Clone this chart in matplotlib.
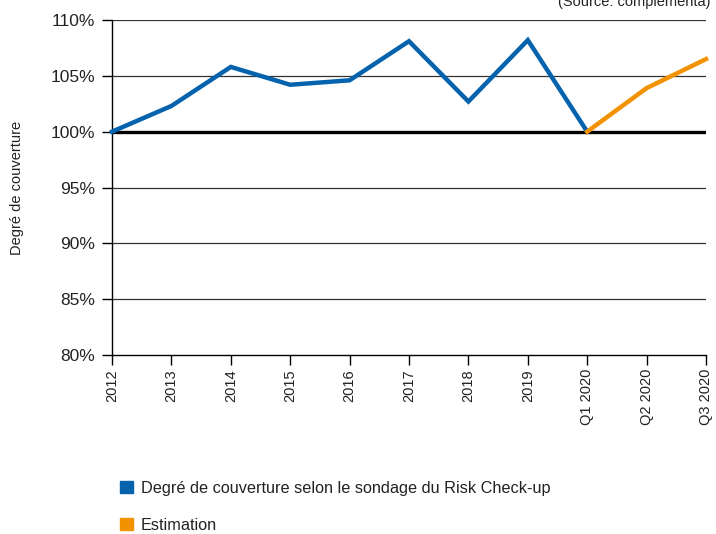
import numpy as np
import matplotlib.pyplot as plt
from matplotlib.patches import Patch

plt.rcParams['font.family'] = ['Liberation Sans', 'DejaVu Sans']

categories = ["2012", "2013", "2014", "2015", "2016", "2017", "2018", "2019",
              "Q1 2020", "Q2 2020", "Q3 2020"]
survey = [100.0, 102.3, 105.8, 104.2, 104.6, 108.1, 102.7, 108.2, 100.0]
estimate = [100.0, 103.9, 106.5]
yticks = [80, 85, 90, 95, 100, 105, 110]

blue = "#0563AE"
orange = "#F39200"

fig = plt.figure(figsize=(7.16, 5.34), dpi=100)
ax = fig.add_axes([112 / 716, 1 - 355 / 534, (706 - 112) / 716, (355 - 20) / 534])

x = np.arange(len(categories))
for y in yticks[1:]:
    if y == 100:
        ax.axhline(y, color="black", lw=2.4, zorder=2)
    else:
        ax.axhline(y, color="#333333", lw=0.9, zorder=1)

ax.plot(x[:len(survey)], survey, color=blue, lw=3.2, zorder=3, clip_on=False,
        solid_joinstyle="miter")
ax.plot(x[len(survey) - 1:], estimate, color=orange, lw=3.2, zorder=3, clip_on=False,
        solid_joinstyle="miter")

ax.set_xlim(0, len(categories) - 1)
ax.set_ylim(80, 110)
ax.set_xticks(x)
ax.set_xticklabels(categories, rotation=90, fontsize=10.5, color="#222222")
ax.set_yticks(yticks)
ax.set_yticklabels([f"{v}%" for v in yticks], fontsize=12.5, color="#222222")
ax.tick_params(axis="both", length=7, width=1, color="black", pad=3)
ax.tick_params(axis="y", pad=5)
for s in ["top", "right"]:
    ax.spines[s].set_visible(False)
ax.spines["left"].set_linewidth(1)
ax.spines["bottom"].set_linewidth(1)
ax.set_ylabel("Degré de couverture", fontsize=10.5, color="#222222", labelpad=19)

fig.text(0.993, 0.996, "(Source: complementa)", ha="right", va="center",
         fontsize=10.5, color="#222222")

handles = [Patch(color=blue), Patch(color=orange)]
labels = ["Degré de couverture selon le sondage du Risk Check-up", "Estimation"]
fig.legend(handles, labels, loc="upper left", bbox_to_anchor=(105 / 716, 1 - 466 / 534),
           frameon=False, fontsize=11.7, handlelength=0.8, handleheight=0.8,
           handletextpad=0.5, labelspacing=1.35, labelcolor="#222222")

fig.savefig("out.png", dpi=100)
